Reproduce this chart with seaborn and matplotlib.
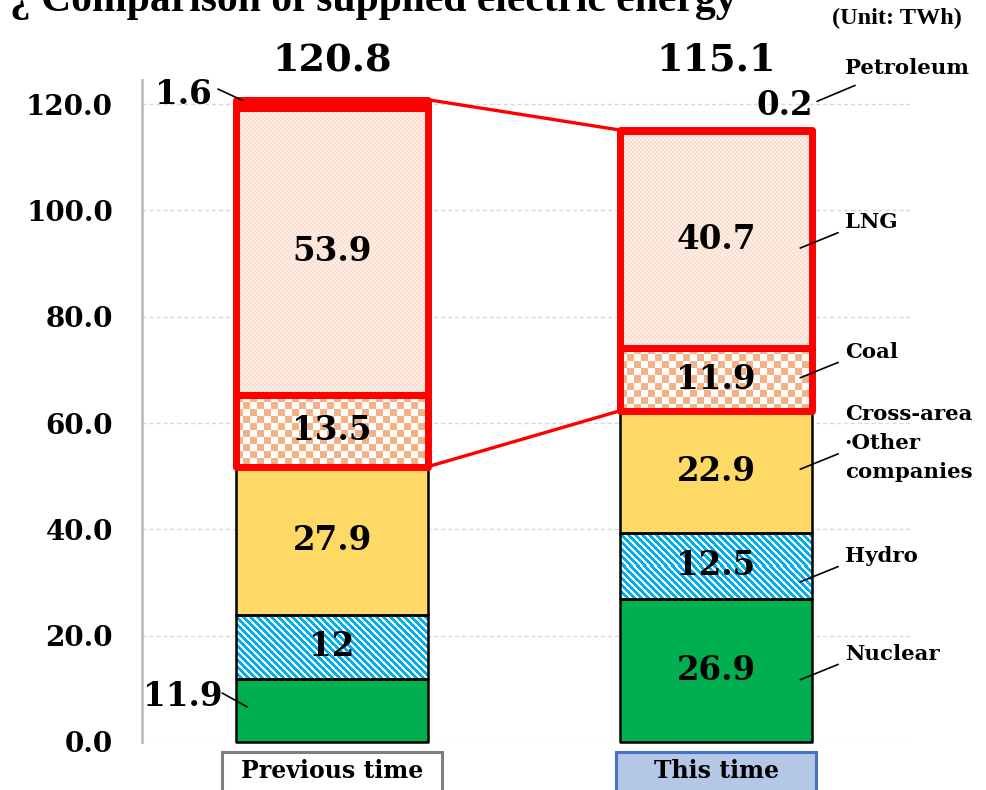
import numpy as np
import matplotlib
matplotlib.use("Agg")
import matplotlib.pyplot as plt
import matplotlib.transforms as mtransforms
from matplotlib.patches import Rectangle
from matplotlib.colors import to_rgb
import seaborn as sns

# ---- data (TWh) ----
periods = ["Previous time", "This time"]
nuclear = [11.9, 26.9]
hydro = [12.0, 12.5]
cross_area = [27.9, 22.9]
coal = [13.5, 11.9]
lng = [53.9, 40.7]
petroleum = [1.6, 0.2]
totals = [120.8, 115.1]
source_labels = ["Nuclear", "Hydro", "Cross-area\n\u00b7Other\ncompanies", "Coal", "LNG", "Petroleum"]
y_ticks = [0, 20, 40, 60, 80, 100, 120]

sns.set_style("white")
plt.rcParams["font.family"] = ["DejaVu Serif"]
plt.rcParams["font.weight"] = "bold"
plt.rcParams["text.color"] = "black"
plt.rcParams["ytick.color"] = "black"
plt.rcParams["xtick.color"] = "black"

fig = plt.figure(figsize=(9.87, 7.90), dpi=100)
Y_MAX = 124.5
ax = fig.add_axes([142 / 987, 48 / 790, 768 / 987, Y_MAX * (638 / 120) / 790])
XLIM = (-0.495, 1.505)
ax.set_xlim(*XLIM)
ax.set_ylim(0, Y_MAX)

# ---- stacked segments ----
stack = [
    ("Nuclear", nuclear, "#00B050"),
    ("Hydro", hydro, "#FFFFFF"),
    ("Cross", cross_area, "#FFD966"),
    ("Coal", coal, "#FFFFFF"),
    ("LNG", lng, "#FCE4D6"),
    ("Petroleum", petroleum, "#FF0000"),
]
segments = {}
base = np.zeros(len(periods))
for name, vals, color in stack:
    n_before = len(ax.patches)
    sns.barplot(x=periods, y=vals, bottom=base, color=color, saturation=1,
                width=0.5, errorbar=None, linewidth=0, ax=ax)
    segments[name] = ax.patches[n_before:]
    base = base + np.array(vals)

ax.set_xlim(*XLIM)
ax.set_ylim(0, Y_MAX)


def pixel_box(patch):
    x0, y0 = patch.get_x(), patch.get_y()
    x1, y1 = x0 + patch.get_width(), y0 + patch.get_height()
    (px0, py0), (px1, py1) = ax.transData.transform([(x0, y0), (x1, y1)])
    return x0, x1, y0, y1, max(int(round(px1 - px0)), 1), max(int(round(py1 - py0)), 1)


def texture(patch, kind, c1, c2, cell):
    x0, x1, y0, y1, w, h = pixel_box(patch)
    i, j = np.mgrid[0:h, 0:w]
    if kind == "checker":
        mask = ((i // cell) + (j // cell)) % 2 == 0
    else:
        mask = ((i - j) % (2 * cell)) < cell
    rgb = np.where(mask[..., None], np.array(to_rgb(c1)), np.array(to_rgb(c2)))
    im = ax.imshow(rgb, extent=(x0, x1, y0, y1), origin="upper",
                   interpolation="nearest", aspect="auto", zorder=1.5)
    im.set_clip_path(patch)


for p in segments["Hydro"]:
    texture(p, "stripe", "#00B0F0", "#FFFFFF", 3.5)
for p in segments["Coal"]:
    texture(p, "checker", "#F4B183", "#FFFFFF", 7)
for p in segments["LNG"]:
    texture(p, "checker", "#FADFCE", "#FEEEE5", 2)


def outline(patch, color, lw, z):
    ax.add_patch(Rectangle((patch.get_x(), patch.get_y()), patch.get_width(),
                           patch.get_height(), fill=False, edgecolor=color,
                           linewidth=lw, zorder=z, joinstyle="round", clip_on=False))


for name in ["Nuclear", "Hydro", "Cross"]:
    for p in segments[name]:
        outline(p, "black", 1.8, 3)
for name in ["Coal", "LNG", "Petroleum"]:
    for p in segments[name]:
        outline(p, "#FF0000", 5, 4)

# red connectors between the thermal blocks
pc, tc = segments["Coal"]
pp, tp = segments["Petroleum"]
ax.plot([pc.get_x() + pc.get_width(), tc.get_x()], [pc.get_y(), tc.get_y()],
        color="#FF0000", lw=2.4, zorder=3.5, clip_on=False, solid_capstyle="butt")
ax.plot([pp.get_x() + pp.get_width(), tp.get_x()],
        [pp.get_y() + pp.get_height(), tp.get_y() + tp.get_height()],
        color="#FF0000", lw=2.4, zorder=3.5, clip_on=False, solid_capstyle="butt")

# ---- value labels ----
VAL_FS = 23.5
for name, vals, _ in stack:
    for k, p in enumerate(segments[name]):
        if name == "Petroleum" or (name == "Nuclear" and k == 0):
            continue
        ax.text(p.get_x() + p.get_width() / 2, p.get_y() + p.get_height() / 2,
                f"{vals[k]:g}", ha="center", va="center", fontsize=VAL_FS,
                fontweight="bold", zorder=6)

# labels placed beside the bars
ax.text(-0.388, 8.5, f"{nuclear[0]:g}", ha="center", va="center", fontsize=VAL_FS, zorder=6)
ax.plot([-0.286, -0.221], [9.2, 6.6], color="black", lw=1.2, zorder=6, clip_on=False)
ax.text(-0.388, 121.7, f"{petroleum[0]:g}", ha="center", va="center", fontsize=VAL_FS, zorder=6)
ax.plot([-0.297, -0.234], [122.8, 120.7], color="black", lw=1.2, zorder=6, clip_on=False)
ax.text(1.18, 119.8, f"{petroleum[1]:g}", ha="center", va="center", fontsize=VAL_FS, zorder=6)
ax.plot([1.263, 1.362], [120.5, 123.5], color="black", lw=1.2, zorder=6, clip_on=False)

# totals
for k, t in enumerate(totals):
    ax.text(k, 128.3, f"{t:.1f}", ha="center", va="center", fontsize=27.5,
            fontweight="bold", clip_on=False)

# source names with leader lines
LBL_X = 1.335
label_y = {"Petroleum": 126.8, "LNG": 97.8, "Coal": 73.4, "Cross": 56.2,
           "Hydro": 35.0, "Nuclear": 16.6}
for (name, _, _), text in zip(stack, source_labels):
    ax.text(LBL_X, label_y[name], text, ha="left", va="center", fontsize=15.3,
            linespacing=1.55, clip_on=False)
    if name != "Petroleum":
        y0 = label_y[name] - 4.9
        ax.plot([1.219, 1.318], [y0, y0 + 2.9], color="black", lw=1.2, zorder=6,
                clip_on=False)

# ---- axes styling ----
ax.set_yticks(y_ticks)
ax.set_yticklabels([f"{v:.1f}" for v in y_ticks])
ax.tick_params(axis="y", length=0, pad=21, labelsize=20, labelcolor="black")
for lab in ax.get_yticklabels():
    lab.set_fontweight("bold")
ax.set_xticks([])
ax.set_xlabel("")
ax.set_ylabel("")
ax.yaxis.grid(True, color="#D9D9D9", linestyle=(0, (3, 2)), linewidth=1)
ax.set_axisbelow(True)
for s in ["top", "right", "bottom"]:
    ax.spines[s].set_visible(False)
ax.spines["left"].set_color("#BFBFBF")
ax.spines["left"].set_linewidth(2)

# category boxes under the bars
trans = mtransforms.blended_transform_factory(ax.transData, ax.transAxes)
ax.add_patch(Rectangle((-0.287, -0.2), 0.573, 0.185, transform=trans, clip_on=False,
                       facecolor="white", edgecolor="#7F7F7F", linewidth=2.2, zorder=5))
ax.add_patch(Rectangle((0.740, -0.2), 0.52, 0.185, transform=trans, clip_on=False,
                       facecolor="#B4C7E7", edgecolor="#4472C4", linewidth=2.2, zorder=5))
for k, name in enumerate(periods):
    ax.text(k, -0.0438, name, transform=trans, ha="center", va="center",
            fontsize=17, fontweight="bold", zorder=6, clip_on=False)

# heading and unit
fig.text(10 / 987, 1 - 11 / 790, "\u00bf Comparison of supplied electric energy",
         ha="left", va="baseline", fontsize=30, fontweight="bold",
         family=["Liberation Serif", "DejaVu Serif"])
fig.text(962 / 987, 1 - 18 / 790, "(Unit: TWh)", ha="right", va="center",
         fontsize=17.5, fontweight="bold", family=["Liberation Serif", "DejaVu Serif"])

fig.savefig("out.png", dpi=100)
